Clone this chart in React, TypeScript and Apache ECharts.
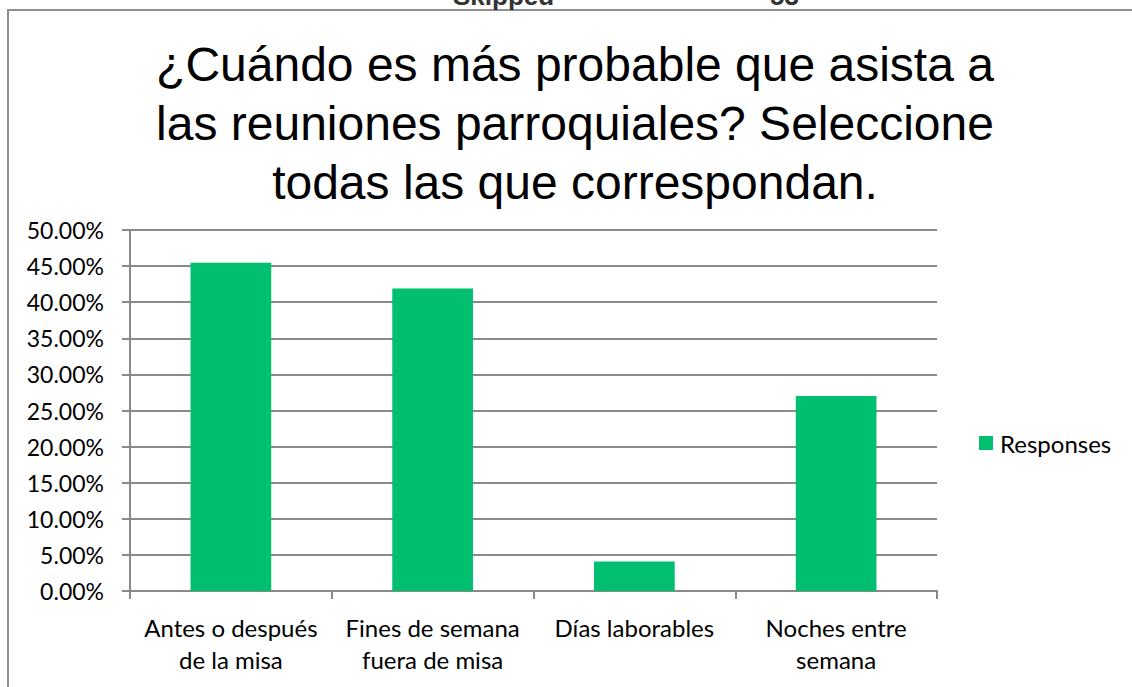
import React, { useEffect, useRef } from "react";
import * as echarts from "echarts";

const categories = [
  "Antes o después\nde la misa",
  "Fines de semana\nfuera de misa",
  "Días laborables",
  "Noches entre\nsemana",
];
const responses = [45.45, 41.9, 4.1, 27.0];
const seriesName = "Responses";
const titleLines = [
  "¿Cuándo es más probable que asista a",
  "las reuniones parroquiales? Seleccione",
  "todas las que correspondan.",
];
const headerTexts = ["Skipped", "53"];

const LABEL_FONT = "Lato, 'Noto Sans', sans-serif";

export default function App() {
  const ref = useRef<HTMLDivElement>(null);
  useEffect(() => {
    if (!ref.current) return;
    const chart = echarts.init(ref.current, undefined, { renderer: "svg" });
    chart.setOption({
      animation: false,
      backgroundColor: "#ffffff",
      grid: { left: 130, right: 195, top: 230, bottom: 96 },
      legend: {
        show: true,
        left: 979,
        top: 431,
        padding: 0,
        itemWidth: 14,
        itemHeight: 14,
        icon: "rect",
        textStyle: {
          fontFamily: LABEL_FONT,
          fontSize: 24,
          color: "#000000",
          padding: [0, 0, 0, 2],
        },
        data: [seriesName],
      },
      xAxis: {
        type: "category",
        data: categories,
        axisLine: { show: true, lineStyle: { color: "#898989", width: 2 } },
        axisTick: { show: true, length: 8, lineStyle: { color: "#898989", width: 2 } },
        axisLabel: {
          fontFamily: LABEL_FONT,
          fontSize: 24,
          color: "#000000",
          lineHeight: 32,
          margin: 20,
          interval: 0,
        },
      },
      yAxis: {
        type: "value",
        min: 0,
        max: 50,
        interval: 5,
        axisLine: { show: true, lineStyle: { color: "#898989", width: 2 } },
        axisTick: { show: true, length: 8, lineStyle: { color: "#898989", width: 2 } },
        splitLine: { show: true, lineStyle: { color: "#898989", width: 2 } },
        axisLabel: {
          fontFamily: LABEL_FONT,
          fontSize: 23,
          color: "#000000",
          margin: 26,
          formatter: (v: number) => v.toFixed(2) + "%",
        },
      },
      series: [
        {
          name: seriesName,
          type: "bar",
          data: responses,
          barWidth: "40%",
          itemStyle: { color: "#00BF6F" },
        },
      ],
      graphic: [
        {
          type: "polyline",
          shape: { points: [[8, 700], [8, 10], [1140, 10]] },
          style: { stroke: "#8f8f8f", lineWidth: 2, fill: "none" },
          silent: true,
        },
        {
          type: "text",
          x: 453,
          y: 9,
          style: {
            text: headerTexts[0],
            font: "bold 26px 'Liberation Sans', Arial, sans-serif",
            fill: "#333333",
            textVerticalAlign: "bottom",
          },
        },
        {
          type: "text",
          x: 770,
          y: 9,
          style: {
            text: headerTexts[1],
            font: "bold 26px 'Liberation Sans', Arial, sans-serif",
            fill: "#333333",
            textVerticalAlign: "bottom",
          },
        },
        {
          type: "text",
          x: 575,
          y: 35,
          style: {
            text: titleLines.join("\n"),
            font: "48px 'Liberation Sans', Arial, sans-serif",
            lineHeight: 59,
            fill: "#000000",
            textAlign: "center",
            textVerticalAlign: "top",
          },
        },
      ],
    });
    return () => chart.dispose();
  }, []);
  return (
    <div
      ref={ref}
      style={{ position: "fixed", left: 0, top: 0, width: 1132, height: 687 }}
    />
  );
}
